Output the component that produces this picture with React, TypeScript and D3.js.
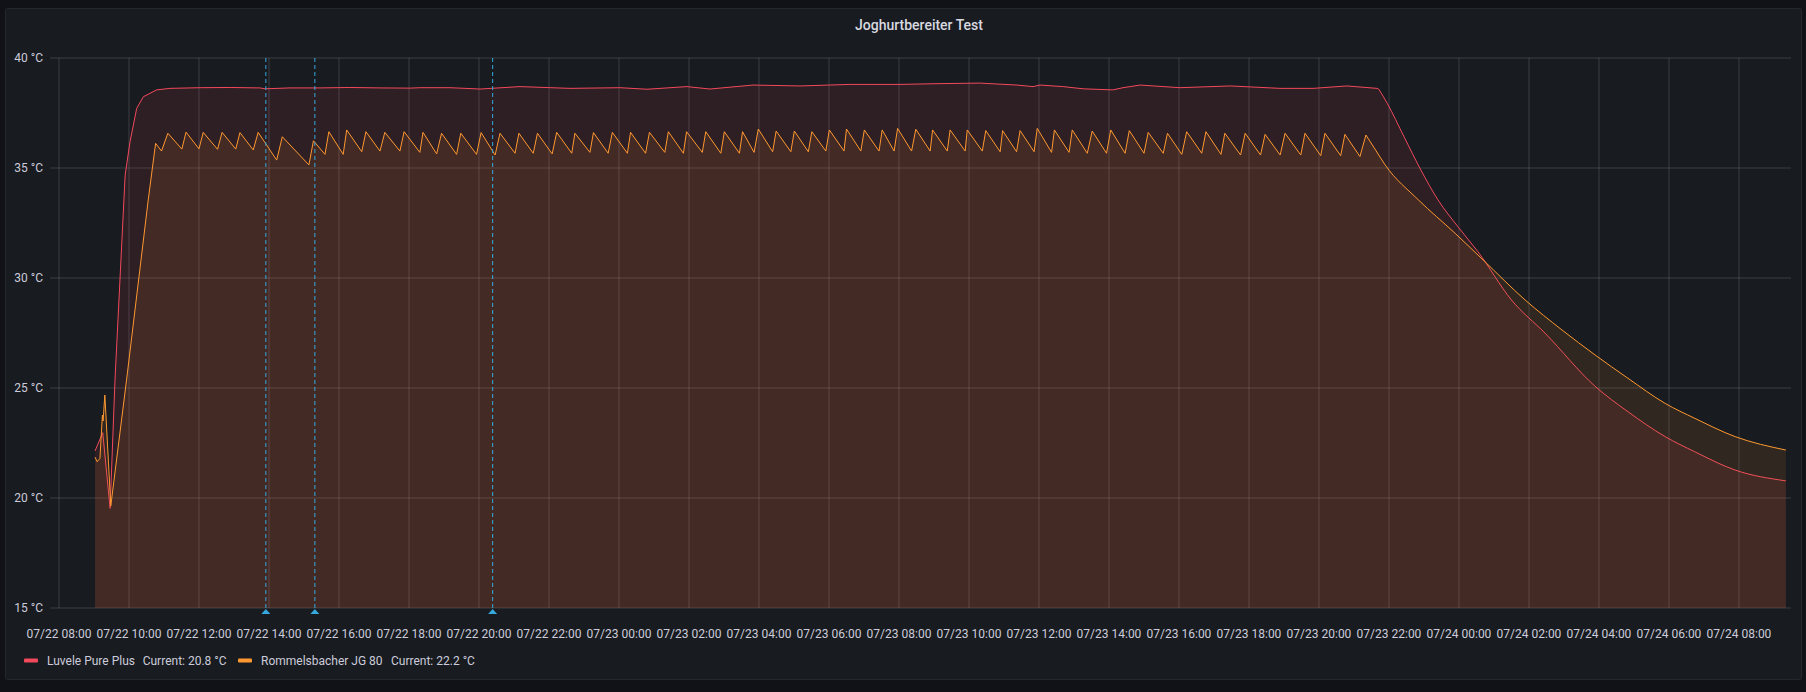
import * as d3 from "d3";

// hours since 07/22 00:00, temperature °C
const luveleWarmup: [number, number][] = [
  [9.03, 22.14], [9.25, 22.97], [9.46, 19.53], [9.6, 25.36], [9.89, 34.68],
  [10.03, 36.2], [10.22, 37.71], [10.41, 38.24], [10.79, 38.55],
];

const luvelePlateau: [number, number][] = [
  [11.17, 38.62], [12.03, 38.65], [12.89, 38.66], [13.74, 38.64], [13.89, 38.6],
  [14.6, 38.64], [15.46, 38.64], [16.31, 38.66], [17.17, 38.64], [18.03, 38.63],
  [18.31, 38.65], [19.17, 38.65], [20.03, 38.59], [21.17, 38.7], [22.6, 38.62],
  [24.03, 38.65], [24.8, 38.58], [25.94, 38.7], [26.6, 38.59], [27.83, 38.77],
  [29.17, 38.73], [30.6, 38.8], [32.03, 38.8], [32.97, 38.83], [34.31, 38.86],
  [35.37, 38.77], [35.83, 38.7], [36.03, 38.77], [36.69, 38.7], [37.26, 38.6],
  [38.11, 38.55], [38.4, 38.65], [38.89, 38.77], [40.03, 38.65], [41.46, 38.73],
  [42.89, 38.62], [43.83, 38.62], [44.8, 38.73], [45.66, 38.62], [45.71, 38.58],
];

const luveleCooldown: [number, number][] = [
  [45.95, 37.94], [46.43, 36.42], [46.91, 34.91], [47.4, 33.55], [47.97, 32.33],
  [48.54, 31.2], [49.5, 29.0], [50.46, 27.49], [51.88, 25.09], [52.83, 23.92],
  [53.89, 22.79], [54.74, 22.1], [55.89, 21.27], [57.34, 20.78],
];

const rommelsWarmup: [number, number][] = [
  [9.03, 21.86], [9.09, 21.65], [9.17, 21.8], [9.24, 23.77], [9.26, 23.5],
  [9.31, 24.68], [9.48, 19.64], [9.93, 25.36], [10.55, 33.55], [10.76, 36.12],
];

const rommelsCycles: [number, number][] = [
  [10.93, 35.77], [11.11, 36.58], [11.51, 35.86], [11.63, 36.63], [12.0, 35.87],
  [12.12, 36.62], [12.53, 35.85], [12.66, 36.62], [13.05, 35.86], [13.17, 36.61],
  [13.55, 35.82], [13.69, 36.62], [14.22, 35.36], [14.38, 36.42], [15.14, 35.14],
  [15.27, 36.24], [15.6, 35.62], [15.71, 36.65], [16.12, 35.62], [16.22, 36.73],
  [16.65, 35.74], [16.77, 36.65], [17.17, 35.77], [17.31, 36.62], [17.74, 35.77],
  [17.86, 36.65], [18.31, 35.71], [18.4, 36.62], [18.79, 35.64], [18.93, 36.58],
  [19.36, 35.62], [19.48, 36.58], [19.93, 35.62], [20.06, 36.61], [20.46, 35.59],
  [20.6, 36.58], [21.03, 35.67], [21.14, 36.58], [21.55, 35.67], [21.67, 36.58],
  [22.09, 35.64], [22.22, 36.62], [22.65, 35.67], [22.74, 36.58], [23.17, 35.71],
  [23.27, 36.61], [23.69, 35.67], [23.81, 36.62], [24.24, 35.67], [24.33, 36.62],
  [24.76, 35.67], [24.87, 36.62], [25.31, 35.71], [25.41, 36.65], [25.84, 35.67],
  [25.93, 36.65], [26.38, 35.71], [26.48, 36.65], [26.91, 35.67], [27.01, 36.65],
  [27.44, 35.67], [27.53, 36.65], [27.86, 35.71], [27.98, 36.77], [28.39, 35.74],
  [28.49, 36.68], [28.91, 35.74], [29.01, 36.68], [29.41, 35.74], [29.51, 36.65],
  [29.91, 35.77], [30.01, 36.73], [30.43, 35.77], [30.5, 36.77], [30.91, 35.77],
  [31.01, 36.73], [31.43, 35.77], [31.52, 36.73], [31.86, 35.77], [31.96, 36.8],
  [32.36, 35.77], [32.48, 36.76], [32.89, 35.77], [32.96, 36.73], [33.38, 35.77],
  [33.46, 36.73], [33.89, 35.77], [33.95, 36.73], [34.38, 35.77], [34.48, 36.7],
  [34.89, 35.74], [34.96, 36.7], [35.36, 35.74], [35.46, 36.7], [35.86, 35.74],
  [35.95, 36.8], [36.36, 35.71], [36.44, 36.73], [36.86, 35.71], [36.95, 36.73],
  [37.38, 35.67], [37.52, 36.68], [37.93, 35.67], [38.05, 36.73], [38.46, 35.67],
  [38.58, 36.7], [39.0, 35.67], [39.12, 36.62], [39.55, 35.67], [39.67, 36.58],
  [40.08, 35.62], [40.22, 36.65], [40.65, 35.67], [40.77, 36.65], [41.2, 35.62],
  [41.31, 36.58], [41.76, 35.59], [41.89, 36.58], [42.33, 35.59], [42.46, 36.53],
  [42.89, 35.59], [43.03, 36.58], [43.48, 35.59], [43.6, 36.58], [44.05, 35.56],
  [44.17, 36.58], [44.62, 35.56], [44.74, 36.53], [45.17, 35.52], [45.34, 36.5],
];

const rommelsCooldown: [number, number][] = [
  [45.6, 35.86], [45.89, 35.14], [46.84, 33.55], [47.89, 32.03], [48.69, 30.82],
  [49.89, 29.0], [50.94, 27.64], [51.89, 26.5], [52.83, 25.44], [53.89, 24.3],
  [54.74, 23.62], [55.89, 22.79], [57.34, 22.18],
];

const yTicks = [15, 20, 25, 30, 35, 40];
const annotationHours = [13.91, 15.31, 20.39];
const domainHours: [number, number] = [7.743, 57.486];

const series = [
  {
    name: "Luvele Pure Plus",
    color: "#F2495C",
    sharp: [...luveleWarmup, ...luvelePlateau],
    smooth: luveleCooldown,
    legendX: 24,
    currentX: 142.7,
  },
  {
    name: "Rommelsbacher JG 80",
    color: "#FF9830",
    sharp: [...rommelsWarmup, ...rommelsCycles],
    smooth: rommelsCooldown,
    legendX: 238,
    currentX: 391,
  },
];

const base = new Date(2023, 6, 22, 0, 0, 0).getTime();
const toDate = (h: number) => new Date(base + h * 3600 * 1000);

const W = 1806;
const H = 692;
const plot = { left: 50, right: 1791, top: 58, bottom: 608 };
const textColor = "#ccccdc";
const gridColor = "rgba(240,250,255,0.16)";
const annColor = "#35a9de";
const font = "Roboto, Inter, sans-serif";

export default function App() {
  const x = d3
    .scaleTime()
    .domain(domainHours.map(toDate))
    .range([plot.left, plot.right]);
  const y = d3.scaleLinear().domain([15, 40]).range([plot.bottom, plot.top]);

  const xTicks = x.ticks(d3.timeHour.every(2)!);
  const fmt = d3.timeFormat("%m/%d %H:%M");

  const sharpLine = d3
    .line<[number, number]>()
    .x((d) => x(toDate(d[0])))
    .y((d) => y(d[1]));
  // the cooling curves are smooth in the original
  const smoothLine = sharpLine.curve(d3.curveMonotoneX);
  const linearLine = d3
    .line<[number, number]>()
    .x((d) => x(toDate(d[0])))
    .y((d) => y(d[1]));

  return (
    <svg
      width={W}
      height={H}
      style={{ position: "absolute", left: 0, top: 0, display: "block" }}
      fontFamily={font}
    >
      <rect width={W} height={H} fill="#111217" />
      <rect x={5.5} y={8.5} width={1796} height={671} rx={2} fill="#181b1f" stroke="#24272d" />

      <text x={919} y={25} fill="#d8d9e0" fontSize={14} fontWeight={500} textAnchor="middle" dominantBaseline="central">
        Joghurtbereiter Test
      </text>

      {/* horizontal grid + y labels */}
      {yTicks.map((t) => (
        <g key={t}>
          <line x1={plot.left} x2={plot.right} y1={y(t)} y2={y(t)} stroke={gridColor} />
          <text x={43} y={y(t)} fill={textColor} fontSize={12} textAnchor="end" dominantBaseline="central">
            {t} °C
          </text>
        </g>
      ))}

      {/* vertical grid + x labels */}
      {xTicks.map((t) => (
        <g key={+t}>
          <line x1={x(t)} x2={x(t)} y1={plot.top} y2={plot.bottom} stroke={gridColor} />
          <text x={x(t)} y={634} fill={textColor} fontSize={12} textAnchor="middle" dominantBaseline="central">
            {fmt(t)}
          </text>
        </g>
      ))}

      {series.map((s) => {
        const head = linearLine(s.sharp) ?? "";
        const tail = (smoothLine([s.sharp[s.sharp.length - 1], ...s.smooth]) ?? "").replace(/^M/, "L");
        const path = head + tail;
        const x0 = x(toDate(s.sharp[0][0]));
        const x1 = x(toDate(s.smooth[s.smooth.length - 1][0]));
        const fillPath = `${path}L${x1},${y(15)}L${x0},${y(15)}Z`;
        return (
          <g key={s.name}>
            <path d={fillPath} fill={s.color} fillOpacity={0.1} />
            <path d={path} fill="none" stroke={s.color} strokeWidth={1} />
          </g>
        );
      })}

      {annotationHours.map((h) => {
        const ax = x(toDate(h));
        return (
          <g key={h}>
            <line x1={ax} x2={ax} y1={plot.top} y2={plot.bottom} stroke={annColor} strokeDasharray="4,3" />
            <path d={`M${ax - 4.5},${plot.bottom + 6}L${ax},${plot.bottom + 1}L${ax + 4.5},${plot.bottom + 6}Z`} fill={annColor} />
          </g>
        );
      })}

      {/* legend */}
      {series.map((s) => {
        const last = s.smooth[s.smooth.length - 1][1];
        return (
          <g key={s.name}>
            <rect x={s.legendX} y={658.5} width={14} height={4} rx={1} fill={s.color} />
            <text x={s.legendX + 23} y={660.5} fill={textColor} fontSize={12} dominantBaseline="central">
              {s.name}
            </text>
            <text x={s.currentX} y={660.5} fill={textColor} fontSize={12} dominantBaseline="central">
              Current: {last.toFixed(1)} °C
            </text>
          </g>
        );
      })}
    </svg>
  );
}
